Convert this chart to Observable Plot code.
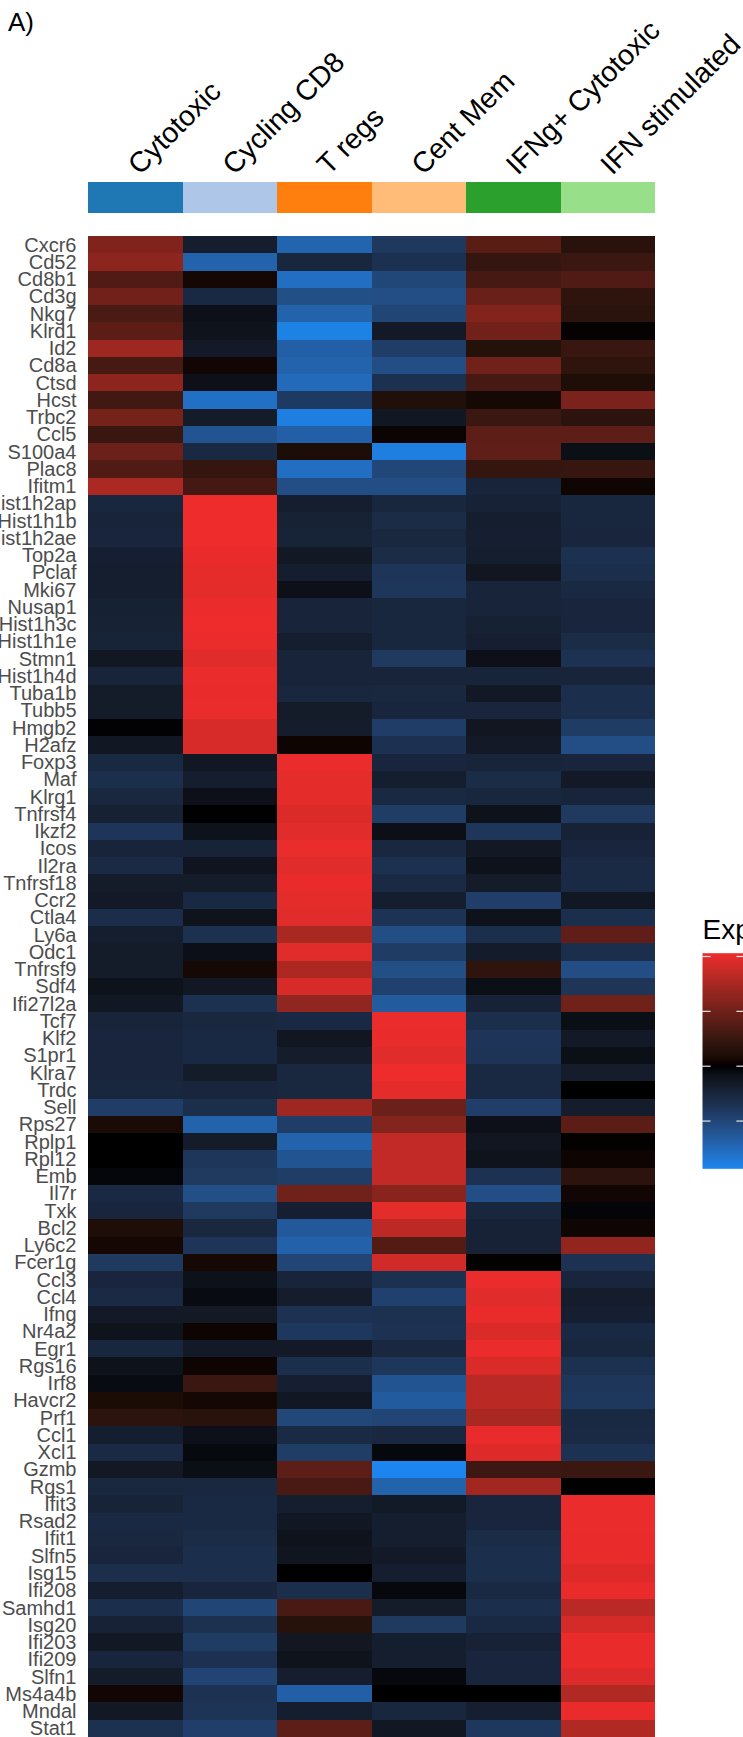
<!DOCTYPE html>
<html>
<head>
<meta charset="utf-8">
<script src="https://cdn.jsdelivr.net/npm/d3@7"></script>
<script src="https://cdn.jsdelivr.net/npm/@observablehq/plot@0.6"></script>
<style>
  html, body { margin: 0; padding: 0; background: #fff; overflow: hidden; }
  #fig { position: relative; width: 743px; height: 1737px; overflow: hidden;
         font-family: "Liberation Sans", Arial, sans-serif; background: #fff; }
  #fig > * { position: absolute; }
  #panel { left: 8px; top: 9px; font-size: 26px; line-height: 26px; color: #000; }
</style>
</head>
<body>
<div id="fig"><div id="panel">A)</div></div>
<script>
// Cluster annotation (columns)
const clusters = ["Cytotoxic", "Cycling CD8", "T regs", "Cent Mem", "IFNg+ Cytotoxic", "IFN stimulated"];
const clusterColors = ["#1f77b4", "#aec7e8", "#ff7f0e", "#ffbb78", "#2ca02c", "#98df8a"];

// Marker genes (rows, top to bottom)
const genes = [
  "Cxcr6","Cd52","Cd8b1","Cd3g","Nkg7","Klrd1","Id2","Cd8a","Ctsd","Hcst","Trbc2","Ccl5","S100a4","Plac8","Ifitm1",
  "Hist1h2ap","Hist1h1b","Hist1h2ae","Top2a","Pclaf","Mki67","Nusap1","Hist1h3c","Hist1h1e","Stmn1","Hist1h4d","Tuba1b","Tubb5","Hmgb2","H2afz",
  "Foxp3","Maf","Klrg1","Tnfrsf4","Ikzf2","Icos","Il2ra","Tnfrsf18","Ccr2","Ctla4","Ly6a","Odc1","Tnfrsf9","Sdf4","Ifi27l2a",
  "Tcf7","Klf2","S1pr1","Klra7","Trdc","Sell","Rps27","Rplp1","Rpl12","Emb","Il7r","Txk","Bcl2","Ly6c2","Fcer1g",
  "Ccl3","Ccl4","Ifng","Nr4a2","Egr1","Rgs16","Irf8","Havcr2","Prf1","Ccl1","Xcl1","Gzmb","Rgs1",
  "Ifit3","Rsad2","Ifit1","Slfn5","Isg15","Ifi208","Samhd1","Isg20","Ifi203","Ifi209","Slfn1","Ms4a4b","Mndal","Stat1"
];

// Scaled expression per cluster, in gene order
const cytotoxic = [
  1.15, 1.25, 0.72, 1.02, 0.66, 0.82, 1.42, 0.62, 1.27, 0.58, 1.06, 0.5, 0.97, 0.72, 1.52,
  -0.52, -0.48, -0.5, -0.4, -0.38, -0.38, -0.42, -0.44, -0.46, -0.27, -0.48, -0.33, -0.33, -0.02, -0.27,
  -0.55, -0.63, -0.53, -0.42, -0.75, -0.48, -0.57, -0.34, -0.3, -0.62, -0.38, -0.34, -0.33, -0.19, -0.27,
  -0.47, -0.5, -0.5, -0.5, -0.52, -0.87, 0.17, 0, 0, -0.06, -0.56, -0.5, 0.22, 0.11, -0.8,
  -0.5, -0.58, -0.3, -0.2, -0.52, -0.19, -0.1, 0.18, 0.37, -0.38, -0.58, -0.28, -0.53,
  -0.46, -0.56, -0.53, -0.5, -0.63, -0.38, -0.63, -0.45, -0.28, -0.5, -0.33, 0.09, -0.28, -0.67
];
const cyclingCD8 = [
  -0.38, -1.4, 0.12, -0.56, -0.16, -0.2, -0.3, 0.1, -0.16, -1.58, -0.33, -1.2, -0.55, 0.45, 0.6,
  2.06, 2.06, 2.06, 2.02, 2.0, 1.98, 2.04, 2.06, 2.04, 1.95, 2.04, 2.02, 2.04, 1.88, 1.87,
  -0.27, -0.38, -0.16, -0.01, -0.19, -0.46, -0.22, -0.33, -0.56, -0.2, -0.67, -0.15, 0.13, -0.27, -0.67,
  -0.53, -0.56, -0.56, -0.34, -0.5, -0.63, -1.4, -0.34, -0.76, -0.8, -1.12, -0.8, -0.53, -0.75, 0.13,
  -0.17, -0.1, -0.29, 0.07, -0.3, 0.07, 0.52, 0.11, 0.34, -0.16, -0.08, -0.13, -0.53,
  -0.56, -0.56, -0.6, -0.63, -0.63, -0.5, -0.98, -0.67, -0.85, -0.68, -0.97, -0.7, -0.73, -0.88
];
const tRegs = [
  -1.42, -0.52, -1.56, -1.12, -1.4, -1.8, -1.35, -1.4, -1.5, -0.82, -1.78, -1.35, 0.2, -1.56, -1.1,
  -0.38, -0.44, -0.46, -0.28, -0.38, -0.16, -0.48, -0.47, -0.38, -0.47, -0.47, -0.52, -0.33, -0.36, 0.07,
  2.04, 1.98, 1.98, 1.9, 1.95, 2.04, 1.95, 2.02, 1.98, 1.95, 1.5, 1.95, 1.54, 1.88, 1.3,
  -0.56, -0.25, -0.36, -0.53, -0.53, 1.42, -0.87, -1.4, -1.2, -0.87, 1.0, -0.4, -1.26, -1.38, -0.98,
  -0.48, -0.36, -0.7, -0.78, -0.3, -0.63, -0.4, -0.27, -1.02, -0.57, -0.86, 0.84, 0.65,
  -0.38, -0.27, -0.2, -0.23, 0, -0.63, 0.64, 0.3, -0.26, -0.2, -0.37, -1.35, -0.38, 0.84
];
const centMem = [
  -0.79, -0.68, -1.0, -1.1, -0.98, -0.3, -0.87, -1.1, -0.67, 0.25, -0.27, 0.06, -1.78, -1.0, -1.1,
  -0.52, -0.6, -0.53, -0.6, -0.75, -0.76, -0.52, -0.52, -0.52, -0.8, -0.47, -0.53, -0.5, -0.87, -0.68,
  -0.5, -0.38, -0.55, -0.86, -0.15, -0.53, -0.67, -0.58, -0.38, -0.72, -1.1, -0.85, -1.12, -0.92, -1.3,
  2.04, 2.02, 1.95, 2.06, 1.98, 0.97, 1.18, 1.7, 1.7, 1.7, 1.22, 1.98, 1.67, 0.74, 1.82,
  -0.67, -0.92, -0.67, -0.7, -0.54, -0.76, -1.2, -1.3, -0.98, -0.54, -0.07, -1.87, -1.4,
  -0.31, -0.38, -0.38, -0.3, -0.38, -0.07, -0.33, -0.8, -0.38, -0.38, -0.07, 0, -0.52, -0.27
];
const ifngCytotoxic = [
  0.8, 0.45, 0.62, 0.95, 1.17, 1.02, 0.28, 1.0, 0.62, 0.13, 0.52, 0.84, 0.86, 0.45, -0.47,
  -0.45, -0.38, -0.4, -0.38, -0.24, -0.47, -0.47, -0.42, -0.4, -0.16, -0.47, -0.28, -0.5, -0.24, -0.3,
  -0.47, -0.6, -0.52, -0.19, -0.76, -0.28, -0.19, -0.33, -0.88, -0.19, -0.63, -0.35, 0.4, -0.14, -0.45,
  -0.63, -0.75, -0.73, -0.55, -0.56, -0.88, -0.16, -0.24, -0.2, -0.7, -1.1, -0.52, -0.45, -0.45, 0.02,
  2.04, 1.95, 2.02, 1.9, 2.04, 1.9, 1.64, 1.65, 1.5, 2.02, 1.93, 0.54, 1.45,
  -0.5, -0.5, -0.6, -0.63, -0.63, -0.56, -0.63, -0.56, -0.45, -0.5, -0.5, 0, -0.4, -0.78
];
const ifnStimulated = [
  0.32, 0.52, 0.72, 0.4, 0.36, 0.03, 0.5, 0.4, 0.22, 1.1, 0.38, 0.84, -0.14, 0.48, 0.08,
  -0.52, -0.52, -0.5, -0.67, -0.63, -0.55, -0.5, -0.5, -0.6, -0.7, -0.48, -0.63, -0.63, -0.85, -1.1,
  -0.5, -0.3, -0.47, -0.8, -0.45, -0.5, -0.58, -0.58, -0.27, -0.63, 0.88, -0.63, -1.1, -0.74, 1.0,
  -0.13, -0.3, -0.14, -0.36, 0, -0.36, 0.82, 0.02, 0.07, 0.38, 0.1, -0.05, 0.08, 1.31, -0.7,
  -0.5, -0.36, -0.4, -0.56, -0.52, -0.67, -0.76, -0.78, -0.55, -0.58, -0.7, 0.52, 0,
  2.04, 2.04, 2.02, 2.02, 1.93, 2.02, 1.64, 1.86, 2.02, 2.02, 1.92, 1.56, 2.02, 1.57
];

// Expression colour ramp and legend ticks
const expDomain = [-1.87, 0, 2.06];
const expColors = ["#1C86EE", "#000000", "#EE2C2C"];
const legendTicks = [-1, 0, 1, 2];

const series = [cytotoxic, cyclingCD8, tRegs, centMem, ifngCytotoxic, ifnStimulated];
const table = genes.flatMap((gene, i) =>
  clusters.map((cluster, j) => ({gene, cluster, value: series[j][i]}))
);

const font = "'Liberation Sans', Arial, sans-serif";
const expScale = {type: "linear", domain: expDomain, range: expColors, interpolate: d3.interpolateLab, clamp: true};
const fig = document.getElementById("fig");

// Column names and cluster annotation bar
const header = Plot.plot({
  width: 743, height: 236,
  marginLeft: 88, marginRight: 88, marginTop: 182, marginBottom: 23.3,
  style: {fontFamily: font, background: "transparent", overflow: "visible"},
  x: {domain: clusters, padding: 0, round: false, axis: null},
  color: {type: "ordinal", domain: clusters, range: clusterColors},
  marks: [
    Plot.cell(clusters, {x: d => d, fill: d => d, shapeRendering: "crispEdges"}),
    Plot.text(clusters, {
      x: d => d, text: d => d, frameAnchor: "top", dx: 4, dy: -6.5,
      rotate: -45, textAnchor: "start", lineAnchor: "bottom",
      fontSize: 28.5, fill: "#000"
    })
  ]
});
header.style.left = "0px"; header.style.top = "0px";
fig.appendChild(header);

// Heatmap body with gene names
const heat = Plot.plot({
  width: 743, height: 1501,
  marginLeft: 88, marginRight: 88, marginTop: 0, marginBottom: 0,
  style: {fontFamily: font, background: "transparent"},
  x: {domain: clusters, padding: 0, round: false, axis: null},
  y: {domain: genes, padding: 0, round: false, axis: null},
  color: expScale,
  marks: [
    Plot.cell(table, {x: "cluster", y: "gene", fill: "value", shapeRendering: "crispEdges"}),
    Plot.axisY({tickSize: 0, tickPadding: 12, fontSize: 20, fill: "#4d4d4d", label: null})
  ]
});
heat.style.left = "0px"; heat.style.top = "236px";
fig.appendChild(heat);

// Colour legend
const legend = Plot.plot({
  width: 70, height: 300,
  marginLeft: 12, marginRight: 15, marginTop: 52.7, marginBottom: 31.7,
  style: {fontFamily: font, background: "transparent", overflow: "visible"},
  x: {domain: [0, 1], axis: null},
  y: {domain: [expDomain[0], expDomain[2]], axis: null},
  color: expScale,
  marks: [
    Plot.raster({x1: 0, x2: 1, y1: expDomain[0], y2: expDomain[2], width: 1, height: 400, fill: (x, y) => y}),
    Plot.ruleY(legendTicks, {y: d => d, x1: 0, x2: 0.2, stroke: "#e6e6e6", strokeWidth: 1.2}),
    Plot.ruleY(legendTicks, {y: d => d, x1: 0.8, x2: 1, stroke: "#e6e6e6", strokeWidth: 1.2}),
    Plot.text(["Exp"], {frameAnchor: "top-left", text: d => d, dy: -14.5, textAnchor: "start", lineAnchor: "bottom", fontSize: 28, fill: "#000"})
  ]
});
legend.style.left = "690px"; legend.style.top = "900px";
fig.appendChild(legend);
</script>
</body>
</html>
